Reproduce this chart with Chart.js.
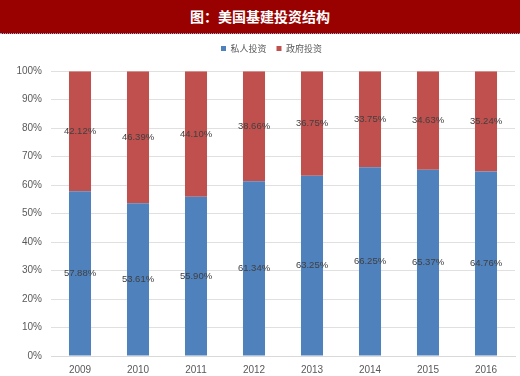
<!DOCTYPE html>
<html><head><meta charset="utf-8">
<script src="https://cdn.jsdelivr.net/npm/chart.js@4/dist/chart.umd.min.js"></script>
<style>
html,body{margin:0;padding:0;background:#fff;width:520px;height:376px;overflow:hidden;font-family:"Noto Sans CJK SC","DejaVu Sans",sans-serif;}
#title{position:absolute;left:0;top:0;width:520px;height:33px;background:#990000;color:#fff;font-weight:bold;font-size:14px;line-height:32px;text-align:center;border-bottom:1px dotted #9aa3c8;z-index:2;}
#wrap{position:absolute;left:0;top:0;width:520px;height:376px;}
</style></head><body>
<div id="title">图：美国基建投资结构</div>
<div id="wrap"><canvas id="c"></canvas></div>
<script>
const categories = ["2009","2010","2011","2012","2013","2014","2015","2016"];
const privateInv = [57.88, 53.61, 55.90, 61.34, 63.25, 66.25, 65.37, 64.76];
const governmentInv = [42.12, 46.39, 44.10, 38.66, 36.75, 33.75, 34.63, 35.24];
const seriesNames = ["私人投资", "政府投资"];

const labelPlugin = {
  id: 'barLabels',
  afterLayout(chart) {
    if (chart.legend) { chart.legend.left += 14; chart.legend.right += 14; }
  },
  afterDatasetsDraw(chart) {
    const ctx = chart.ctx;
    ctx.save();
    ctx.font = '9.5px "Liberation Sans", "DejaVu Sans", sans-serif';
    ctx.fillStyle = '#404040';
    ctx.textAlign = 'center';
    ctx.textBaseline = 'middle';
    chart.data.datasets.forEach((ds, i) => {
      const meta = chart.getDatasetMeta(i);
      meta.data.forEach((bar, j) => {
        const p = bar.getProps(['x','y','base'], true);
        ctx.fillText(ds.data[j].toFixed(2) + '%', p.x, (p.y + p.base) / 2);
      });
    });
    ctx.restore();
  }
};

new Chart(document.getElementById('c'), {
  type: 'bar',
  data: {
    labels: categories,
    datasets: [
      { label: seriesNames[0], data: privateInv, backgroundColor: '#4F81BD', barPercentage: 0.38, categoryPercentage: 1 },
      { label: seriesNames[1], data: governmentInv, backgroundColor: '#C0504D', barPercentage: 0.38, categoryPercentage: 1 }
    ]
  },
  options: {
    responsive: true,
    maintainAspectRatio: false,
    animation: false,
    layout: { padding: { top: 34, right: 5, left: 0, bottom: 0 } },
    plugins: {
      legend: {
        position: 'top',
        weight: 3000,
        labels: {
          boxWidth: 5, boxHeight: 5, padding: 10,
          color: '#595959',
          font: { size: 9, family: '"Noto Sans CJK SC", sans-serif' }
        }
      },
      title: {
        display: true, text: ' ', position: 'top',
        font: { size: 1 }, padding: { top: 0, bottom: 7 }
      },
      tooltip: { enabled: false }
    },
    scales: {
      x: {
        stacked: true,
        grid: { display: false },
        border: { color: '#d9d9d9' },
        ticks: { padding: 0, color: '#595959', font: { size: 10, family: '"Liberation Sans", sans-serif' } }
      },
      y: {
        stacked: true,
        min: 0, max: 100,
        afterFit(s) { s.width = 51; },
        ticks: { stepSize: 10, padding: 9, color: '#595959', callback: v => v + '%', font: { size: 10, family: '"Liberation Sans", sans-serif' } },
        grid: { color: '#e0e0e0', drawTicks: false },
        border: { display: false }
      }
    }
  },
  plugins: [labelPlugin]
});
</script>
</body></html>
